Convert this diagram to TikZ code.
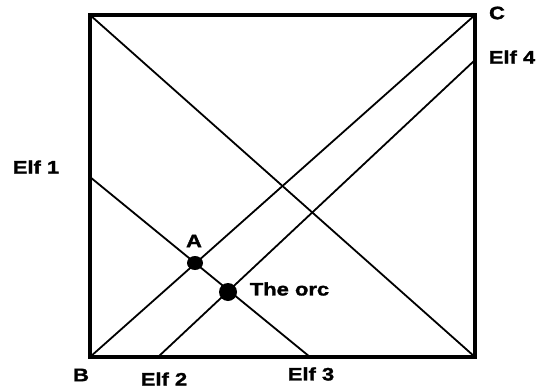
\documentclass[tikz,border=0pt]{standalone}
\usepackage{fontspec}
\usetikzlibrary{shapes.geometric}
\setmainfont{Liberation Sans}
\newfontfamily\labfont[FakeStretch=1.22,FakeBold=1.6]{Liberation Sans Bold}
\begin{document}
\begin{tikzpicture}[x=1pt,y=-1pt,
  lab/.style={inner sep=0pt,font=\labfont\fontsize{18}{20}\selectfont},
  border/.style={line width=3.6pt},
  ray/.style={line width=1.8pt},
  dot/.style={circle,fill=black,inner sep=0pt}]
\useasboundingbox (0,0) rectangle (540,388);
\coordinate (TL) at (90,15);
\coordinate (TR) at (475,15);
\coordinate (BR) at (475,357);
\coordinate (BL) at (90,357);
\coordinate (E1) at (90,177);
\coordinate (E3) at (310,357);
\coordinate (E2) at (158,357);
\coordinate (E4) at (475,60);
\draw[ray] (TL) -- (BR);
\draw[ray] (BL) -- (TR);
\draw[ray] (E1) -- (E3);
\draw[ray] (E2) -- (E4);
\draw[border] (TL) rectangle (BR);
\node[ellipse,fill=black,inner sep=0pt,minimum width=16pt,minimum height=14pt] (A) at (195,263) {};
\node[dot,minimum size=18pt] (orc) at (228,292) {};
\node[lab] (lC) at (497,13) {C};
\node[lab] (lE4) at (512,57) {Elf 4};
\node[lab] (lE1) at (36,167) {Elf 1};
\node[lab] (lA) at (194,241) {A};
\node[lab] (lorc) at (289.5,289) {The orc};
\node[lab] (lB) at (81,375) {B};
\node[lab] (lE2) at (164,379) {Elf 2};
\node[lab] (lE3) at (311,374) {Elf 3};
\end{tikzpicture}
\end{document}
